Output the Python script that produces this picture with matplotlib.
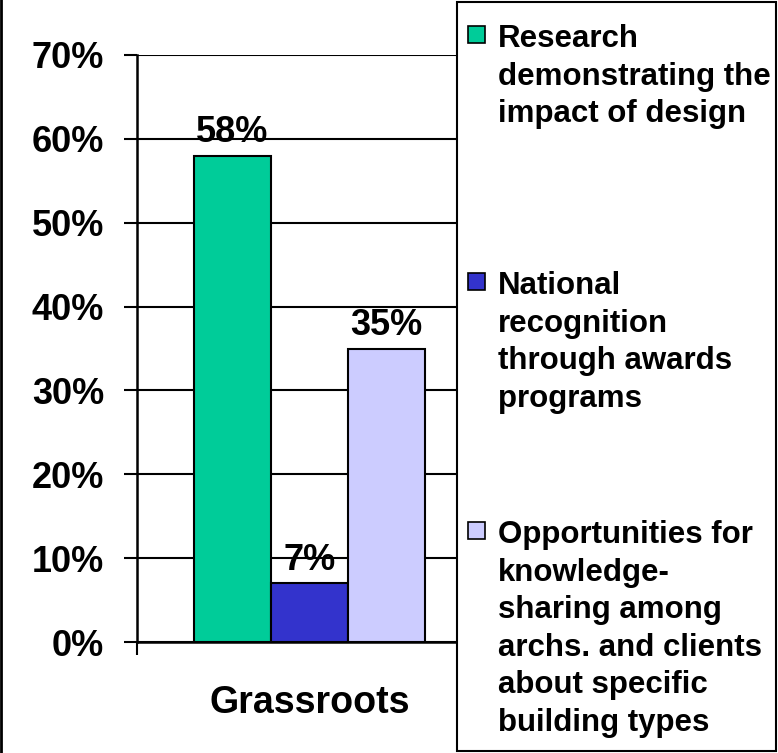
import matplotlib
matplotlib.use('Agg')
import matplotlib.pyplot as plt
from matplotlib.patches import Rectangle
from matplotlib.lines import Line2D
from matplotlib.ticker import FuncFormatter

plt.rcParams['font.family'] = ['Liberation Sans', 'DejaVu Sans']
plt.rcParams['font.weight'] = 'bold'

category = 'Grassroots'
series_labels = [
    'Research\ndemonstrating the\nimpact of design',
    'National\nrecognition\nthrough awards\nprograms',
    'Opportunities for\nknowledge-\nsharing among\narchs. and clients\nabout specific\nbuilding types',
]
values = [58, 7, 35]
colors = ['#00CC99', '#3333CC', '#CCCCFF']
yticks = [0, 10, 20, 30, 40, 50, 60, 70]

W, H = 778, 753
fig = plt.figure(figsize=(W / 100, H / 100), dpi=100)
ax = fig.add_axes([137 / W, 1 - 642 / H, 345 / W, 587 / H])

bw = 77 / 345
offsets = [-bw, 0, bw]
for v, c, off in zip(values, colors, offsets):
    ax.bar(off, v, width=bw, color=c, edgecolor='black', linewidth=1.5, zorder=3)
    ax.annotate(f'{v}%', (off, v), xytext=(0, 4), textcoords='offset points',
                ha='center', va='bottom', fontsize=26, fontweight='bold', zorder=4)

ax.set_xlim(-0.5, 0.5)
ax.set_ylim(0, 70)
ax.set_yticks(yticks)
ax.yaxis.set_major_formatter(FuncFormatter(lambda y, _: f'{y:.0f}%'))
ax.tick_params(axis='y', labelsize=26, length=9.5, width=1.5, pad=14, direction='out')
ax.set_xticks([0])
ax.set_xticklabels([category], fontsize=27, fontweight='bold')
ax.tick_params(axis='x', which='major', length=0, pad=31)
ax.set_xticks([-0.5, 0.5], minor=True)
ax.tick_params(axis='x', which='minor', length=9.5, width=1.5, direction='out')
ax.grid(axis='y', color='black', linewidth=1.5, zorder=0)
for s in ['top', 'right']:
    ax.spines[s].set_visible(False)
for s in ['left', 'bottom']:
    ax.spines[s].set_linewidth(1.8)
    ax.spines[s].set_zorder(5)

# legend box drawn over the right side of the plot area
fig.add_artist(Rectangle((457 / W, 1 - 751 / H), 319 / W, 749 / H, transform=fig.transFigure,
                         facecolor='white', edgecolor='black', linewidth=1.5, zorder=10))
baselines = [47, 294, 543]
step = 37.6
for lab, c, yb in zip(series_labels, colors, baselines):
    fig.add_artist(Rectangle((468 / W, 1 - (yb - 4) / H), 17 / W, 17 / H, transform=fig.transFigure,
                             facecolor=c, edgecolor='black', linewidth=1.2, zorder=11))
    for i, line in enumerate(lab.split('\n')):
        fig.text(498 / W, 1 - (yb + i * step) / H, line, fontsize=22.5, fontweight='bold',
                 ha='left', va='baseline', zorder=12)

fig.add_artist(Line2D([0.001, 0.001], [0, 1], transform=fig.transFigure, color='black', linewidth=2))

fig.savefig('out.png', dpi=100)
